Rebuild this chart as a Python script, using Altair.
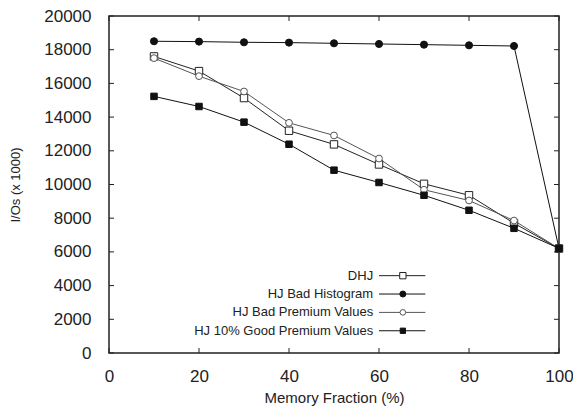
import altair as alt
import pandas as pd

# ---- data ----
memory_fraction = [10, 20, 30, 40, 50, 60, 70, 80, 90, 100]
series_names = ["DHJ", "HJ Bad Histogram", "HJ Bad Premium Values",
                "HJ 10% Good Premium Values"]
dhj = [17600, 16730, 15130, 13190, 12380, 11190, 10040, 9360, 7700, 6200]
hj_bad_histogram = [18500, 18480, 18440, 18420, 18380, 18340, 18300, 18260, 18220, 6200]
hj_bad_premium = [17500, 16430, 15520, 13660, 12910, 11540, 9690, 9050, 7860, 6200]
hj_good_premium = [15230, 14630, 13700, 12390, 10850, 10120, 9360, 8470, 7400, 6210]

x_ticks = [0, 20, 40, 60, 80, 100]
y_ticks = [0, 2000, 4000, 6000, 8000, 10000, 12000, 14000, 16000, 18000, 20000]

values = [dhj, hj_bad_histogram, hj_bad_premium, hj_good_premium]
rows = []
for name, vals in zip(series_names, values):
    for xv, yv in zip(memory_fraction, vals):
        rows.append({"series": name, "x": xv, "y": yv})
df = pd.DataFrame(rows)

xt = pd.DataFrame({"v": x_ticks})
yt = pd.DataFrame({"v": y_ticks})

# legend table (built from the series names)
leg = pd.DataFrame({
    "series": series_names,
    "ly": [4590 - i * 1090 for i in range(len(series_names))],
})
leg["tx"] = 58.7
leg["x0"] = 60.0
leg["x1"] = 70.3
leg["xm"] = 65.3

W, H = 450, 337
TL = 5
FONT = "Liberation Sans"
TXT = "#222222"

xs = alt.Scale(domain=[0, 100], nice=False, zero=False)
ys = alt.Scale(domain=[0, 20000], nice=False)

stroke_sc = alt.Scale(domain=series_names, range=["#222222", "#111111", "#555555", "#111111"])
fill_sc = alt.Scale(domain=series_names, range=["white", "#111111", "white", "#111111"])
shape_sc = alt.Scale(domain=series_names, range=["square", "circle", "circle", "square"])
size_sc = alt.Scale(domain=series_names, range=[55, 42, 50, 60])
lsize_sc = alt.Scale(domain=series_names, range=[40, 28, 32, 48])

xa = alt.Axis(values=x_ticks, format="d", ticks=False, domain=False, grid=False,
              labelFontSize=17, labelFont=FONT, labelColor=TXT, labelPadding=15,
              labelOverlap=False, labelFlush=False,
              title="Memory Fraction (%)", titleFont=FONT, titleFontSize=15,
              titleFontWeight="normal", titleColor=TXT, titlePadding=6)
ya = alt.Axis(values=y_ticks, format="d", ticks=False, domain=False, grid=False,
              labelFontSize=17, labelFont=FONT, labelColor=TXT, labelPadding=18,
              labelOverlap=False, labelFlush=False,
              title="I/Os (x 1000)", titleFont=FONT, titleFontSize=13,
              titleFontWeight="normal", titleColor=TXT, titlePadding=21)

lines = alt.Chart(df).mark_line(strokeWidth=1).encode(
    x=alt.X("x:Q", scale=xs, axis=xa),
    y=alt.Y("y:Q", scale=ys, axis=ya),
    stroke=alt.Stroke("series:N", scale=stroke_sc, legend=None),
    detail="series:N",
)

points = alt.Chart(df).mark_point(filled=False, strokeWidth=1, opacity=1).encode(
    x=alt.X("x:Q", scale=xs, axis=xa),
    y=alt.Y("y:Q", scale=ys, axis=ya),
    stroke=alt.Stroke("series:N", scale=stroke_sc, legend=None),
    fill=alt.Fill("series:N", scale=fill_sc, legend=None),
    shape=alt.Shape("series:N", scale=shape_sc, legend=None),
    size=alt.Size("series:N", scale=size_sc, legend=None),
)

# inward tick marks on all four sides
tick_left = alt.Chart(yt).mark_rule(color=TXT, strokeWidth=1).encode(
    y=alt.Y("v:Q", scale=ys, axis=ya), x=alt.value(0), x2=alt.value(TL))
tick_right = alt.Chart(yt).mark_rule(color=TXT, strokeWidth=1).encode(
    y=alt.Y("v:Q", scale=ys, axis=ya), x=alt.value(W - TL), x2=alt.value(W))
tick_bottom = alt.Chart(xt).mark_rule(color=TXT, strokeWidth=1).encode(
    x=alt.X("v:Q", scale=xs, axis=xa), y=alt.value(H - TL), y2=alt.value(H))
tick_top = alt.Chart(xt).mark_rule(color=TXT, strokeWidth=1).encode(
    x=alt.X("v:Q", scale=xs, axis=xa), y=alt.value(0), y2=alt.value(TL))

leg_text = alt.Chart(leg).mark_text(align="right", baseline="middle", font=FONT,
                                    fontSize=13, color=TXT).encode(
    x=alt.X("tx:Q", scale=xs, axis=xa),
    y=alt.Y("ly:Q", scale=ys, axis=ya),
    text="series:N",
)
leg_rule = alt.Chart(leg).mark_rule(strokeWidth=1).encode(
    x=alt.X("x0:Q", scale=xs, axis=xa),
    x2="x1:Q",
    y=alt.Y("ly:Q", scale=ys, axis=ya),
    stroke=alt.Stroke("series:N", scale=stroke_sc, legend=None),
)
leg_pts = alt.Chart(leg).mark_point(filled=False, strokeWidth=1, opacity=1).encode(
    x=alt.X("xm:Q", scale=xs, axis=xa),
    y=alt.Y("ly:Q", scale=ys, axis=ya),
    stroke=alt.Stroke("series:N", scale=stroke_sc, legend=None),
    fill=alt.Fill("series:N", scale=fill_sc, legend=None),
    shape=alt.Shape("series:N", scale=shape_sc, legend=None),
    size=alt.Size("series:N", scale=lsize_sc, legend=None),
)

chart = alt.layer(
    lines, tick_left, tick_right, tick_bottom, tick_top,
    points, leg_rule, leg_pts, leg_text
).resolve_scale(size="independent").properties(
    width=W, height=H,
    autosize=alt.AutoSizeParams(type="none"),
    padding={"left": 101, "top": 8, "right": 14, "bottom": 53},
    background="white",
).configure_view(stroke="#222222", strokeWidth=1.5)

chart.save("out.html", embed_options={"renderer": "svg", "actions": False})
